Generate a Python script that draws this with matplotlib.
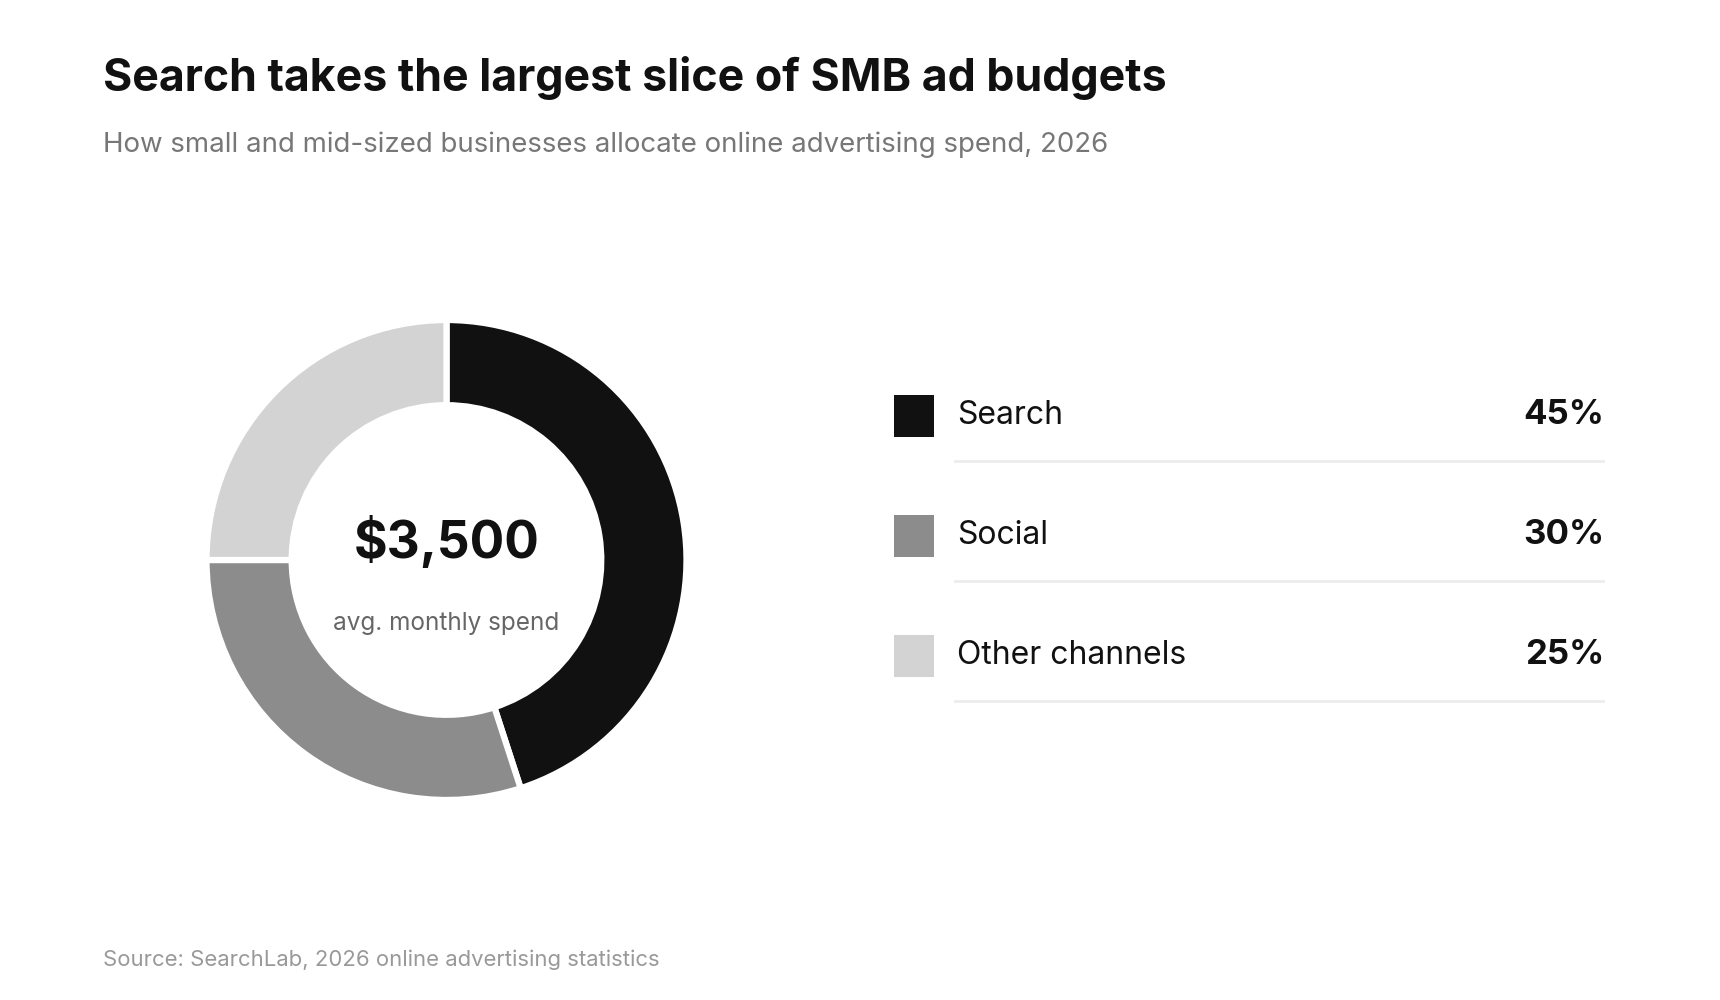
import matplotlib
matplotlib.use("Agg")
import matplotlib.pyplot as plt
from matplotlib.patches import Rectangle
from matplotlib.lines import Line2D

plt.rcParams["font.family"] = ["Inter", "DejaVu Sans"]

# data
channels = ["Search", "Social", "Other channels"]
shares = [45, 30, 25]
colors = ["#111111", "#8c8c8c", "#d3d3d3"]
center_value = "$3,500"
center_label = "avg. monthly spend"

title = "Search takes the largest slice of SMB ad budgets"
subtitle = "How small and mid-sized businesses allocate online advertising spend, 2026"
source = "Source: SearchLab, 2026 online advertising statistics"

W, H = 1720, 1000
fig = plt.figure(figsize=(W / 100, H / 100), dpi=100)
fig.patch.set_facecolor("white")


def fx(x):
    return x / W


def fy(y):
    return 1 - y / H


# headings
fig.text(fx(103), fy(91), title, fontsize=32.2, fontweight="bold", color="#111111", va="baseline")
fig.text(fx(103), fy(152), subtitle, fontsize=19.9, color="#777777", va="baseline")
fig.text(fx(103), fy(966), source, fontsize=15.9, color="#999999", va="baseline")

# donut
cx, cy, r = 446.5, 560, 240
ax = fig.add_axes([fx(cx - r), fy(cy + r), 2 * r / W, 2 * r / H])
ax.pie(shares, colors=colors, startangle=90, counterclock=False, radius=1,
       wedgeprops=dict(width=0.355, edgecolor="white", linewidth=4.5))
ax.set_xlim(-1, 1)
ax.set_ylim(-1, 1)
ax.set_aspect("equal")
ax.axis("off")
ax.text(0, 0.01, center_value, ha="center", va="baseline", fontsize=37,
        fontweight="bold", color="#111111")
ax.text(0, -0.29, center_label, ha="center", va="baseline", fontsize=17.5,
        color="#666666")

# legend rows
row0, step = 416, 120
for i, (name, val, col) in enumerate(zip(channels, shares, colors)):
    yc = row0 + i * step
    fig.patches.append(Rectangle((fx(894), fy(yc + 21)), 40 / W, 42 / H,
                                 transform=fig.transFigure, facecolor=col,
                                 edgecolor="none"))
    fig.text(fx(957), fy(yc + 8), name, fontsize=23, color="#111111", va="baseline")
    fig.text(fx(1604), fy(yc + 8), f"{val}%", fontsize=25, fontweight="bold",
             color="#111111", va="baseline", ha="right")
    fig.lines.append(Line2D([fx(955), fx(1603)], [fy(yc + 45)] * 2,
                            transform=fig.transFigure, color="#ececec", linewidth=2))

fig.savefig("out.png", dpi=100, facecolor="white")
